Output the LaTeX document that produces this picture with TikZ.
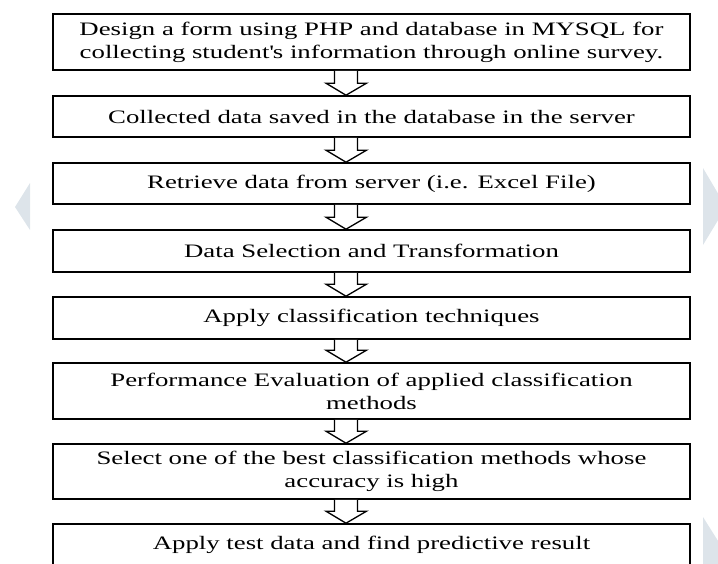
\documentclass[tikz,border=0pt]{standalone}
\usepackage{fontspec}
\setmainfont{Liberation Serif}
\newfontfamily\widefont[FakeStretch=1.41]{Liberation Serif}
\usetikzlibrary{calc}
\definecolor{wm}{HTML}{DDE4EA}
\tikzset{
  stepbox/.style={draw=black, line width=1.6pt, minimum width=637pt, inner sep=0pt,
    align=center, font=\widefont\fontsize{19}{23}\selectfont, anchor=center},
  blockarr/.style={draw=black, line width=1.3pt, fill=white, line join=miter}
}
\newcommand\blockarrow[2]{%
  \draw[blockarr] ($(#1.south)+(-37,0)$) -- ($(#2.north)+(-37,-12)$) -- ($(#2.north)+(-45.5,-12)$)
    -- ($(#2.north)+(-25.5,0)$) -- ($(#2.north)+(-5,-12)$) -- ($(#2.north)+(-14,-12)$)
    -- ($(#1.south)+(-14,0)$);}
\begin{document}
\begin{tikzpicture}[x=1pt,y=-1pt]
\useasboundingbox (0,0) rectangle (718,563);
\clip (0,0) rectangle (718,563);
% watermark shapes
\fill[wm] (30,183) -- (15,207) -- (30,230) -- cycle;
\fill[wm] (703,168) -- (726,207) -- (703,245) -- cycle;
\fill[wm] (703,517) -- (730,560) -- (730,570) -- (703,570) -- cycle;
% boxes
\node[stepbox, minimum height=56pt] (b1) at (371.5,42) {Design a form using PHP and database in MYSQL for\\collecting student\textquotesingle s information through online survey.};
\node[stepbox, minimum height=41pt] (b2) at (371.5,116.5) {Collected data saved in the database in the server};
\node[stepbox, minimum height=41pt] (b3) at (371.5,183.5) {Retrieve data from server (i.e. Excel File)};
\node[stepbox, minimum height=42pt] (b4) at (371.5,251) {Data Selection and Transformation};
\node[stepbox, minimum height=42pt] (b5) at (371.5,318) {Apply classification techniques};
\node[stepbox, minimum height=56pt] (b6) at (371.5,391) {Performance Evaluation of applied classification\\methods};
\node[stepbox, minimum height=55pt] (b7) at (371.5,471.5) {Select one of the best classification methods whose\\accuracy is high};
\node[stepbox, minimum height=42pt] (b8) at (371.5,545) {Apply test data and find predictive result};
% arrows
\blockarrow{b1}{b2}
\blockarrow{b2}{b3}
\blockarrow{b3}{b4}
\blockarrow{b4}{b5}
\blockarrow{b5}{b6}
\blockarrow{b6}{b7}
\blockarrow{b7}{b8}
\end{tikzpicture}
\end{document}
